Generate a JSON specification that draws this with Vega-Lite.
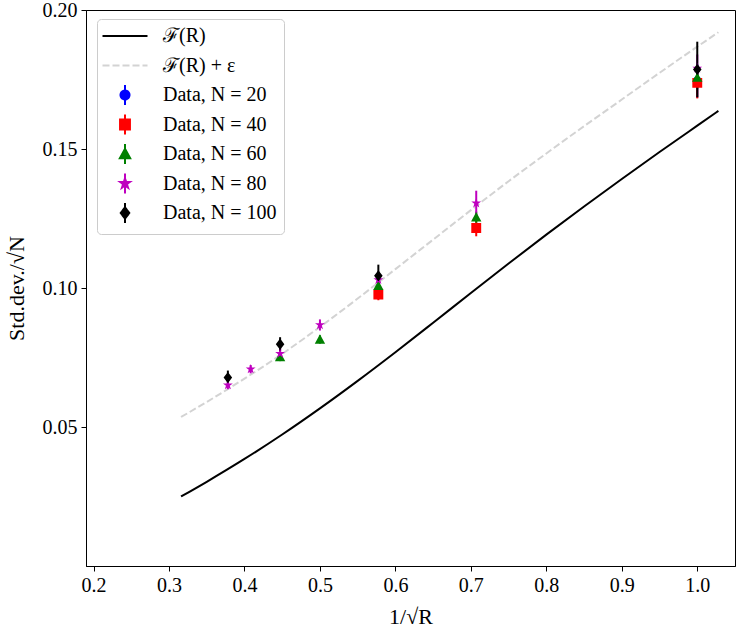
{
  "$schema": "https://vega.github.io/schema/vega-lite/v6.json",
  "width": 649,
  "height": 556,
  "autosize": {"type": "none"},
  "padding": {"left": 86, "top": 10, "right": 12, "bottom": 75},
  "background": "white",
  "config": {
    "view": {"stroke": "black", "strokeWidth": 1},
    "font": "Liberation Serif",
    "axis": {
      "grid": false,
      "domainColor": "black",
      "tickColor": "black",
      "labelColor": "black",
      "titleColor": "black",
      "labelFont": "Liberation Serif",
      "titleFont": "Liberation Serif",
      "labelFontSize": 20,
      "titleFontSize": 22,
      "titleFontWeight": "normal",
      "tickSize": 5,
      "tickWidth": 1,
      "domainWidth": 1,
      "labelPadding": 4
    }
  },
  "datasets": {
    "solid": [
      {"x": 0.316, "y": 0.0250},
      {"x": 0.35, "y": 0.0303},
      {"x": 0.40, "y": 0.0385},
      {"x": 0.45, "y": 0.0473},
      {"x": 0.50, "y": 0.0567},
      {"x": 0.55, "y": 0.0666},
      {"x": 0.60, "y": 0.0769},
      {"x": 0.65, "y": 0.0875},
      {"x": 0.70, "y": 0.0982},
      {"x": 0.75, "y": 0.1088},
      {"x": 0.80, "y": 0.1192},
      {"x": 0.85, "y": 0.1293},
      {"x": 0.90, "y": 0.1392},
      {"x": 0.95, "y": 0.1489},
      {"x": 1.00, "y": 0.1584},
      {"x": 1.028, "y": 0.1637}
    ],
    "dashed": [
      {"x": 0.316, "y": 0.0536},
      {"x": 0.35, "y": 0.0590},
      {"x": 0.40, "y": 0.0674},
      {"x": 0.45, "y": 0.0763},
      {"x": 0.50, "y": 0.0860},
      {"x": 0.55, "y": 0.0962},
      {"x": 0.60, "y": 0.1068},
      {"x": 0.65, "y": 0.1174},
      {"x": 0.70, "y": 0.1280},
      {"x": 0.75, "y": 0.1384},
      {"x": 0.80, "y": 0.1484},
      {"x": 0.85, "y": 0.1582},
      {"x": 0.90, "y": 0.1678},
      {"x": 0.95, "y": 0.1774},
      {"x": 1.00, "y": 0.1868},
      {"x": 1.028, "y": 0.1920}
    ],
    "points": [
      {"series": "Data, N = 20", "x": 1.0, "y": 0.1745, "lo": 0.1685, "hi": 0.1805},
      {"series": "Data, N = 40", "x": 0.5774, "y": 0.0976, "lo": 0.0956, "hi": 0.0996},
      {"series": "Data, N = 40", "x": 0.7071, "y": 0.1216, "lo": 0.1186, "hi": 0.1246},
      {"series": "Data, N = 40", "x": 1.0, "y": 0.1738, "lo": 0.1682, "hi": 0.1794},
      {"series": "Data, N = 60", "x": 0.4472, "y": 0.0752, "lo": 0.0737, "hi": 0.0767},
      {"series": "Data, N = 60", "x": 0.5, "y": 0.0815, "lo": 0.0800, "hi": 0.0830},
      {"series": "Data, N = 60", "x": 0.5774, "y": 0.1008, "lo": 0.0988, "hi": 0.1028},
      {"series": "Data, N = 60", "x": 0.7071, "y": 0.1255, "lo": 0.1235, "hi": 0.1275},
      {"series": "Data, N = 60", "x": 1.0, "y": 0.1757, "lo": 0.1717, "hi": 0.1797},
      {"series": "Data, N = 80", "x": 0.3780, "y": 0.0651, "lo": 0.0636, "hi": 0.0666},
      {"series": "Data, N = 80", "x": 0.4082, "y": 0.0708, "lo": 0.0693, "hi": 0.0723},
      {"series": "Data, N = 80", "x": 0.4472, "y": 0.0764, "lo": 0.0744, "hi": 0.0784},
      {"series": "Data, N = 80", "x": 0.5, "y": 0.0867, "lo": 0.0847, "hi": 0.0887},
      {"series": "Data, N = 80", "x": 0.5774, "y": 0.1029, "lo": 0.0999, "hi": 0.1059},
      {"series": "Data, N = 80", "x": 0.7071, "y": 0.1305, "lo": 0.1260, "hi": 0.1350},
      {"series": "Data, N = 80", "x": 1.0, "y": 0.1790, "lo": 0.1740, "hi": 0.1840},
      {"series": "Data, N = 100", "x": 0.3780, "y": 0.0678, "lo": 0.0653, "hi": 0.0703},
      {"series": "Data, N = 100", "x": 0.4472, "y": 0.0798, "lo": 0.0773, "hi": 0.0823},
      {"series": "Data, N = 100", "x": 0.5774, "y": 0.1044, "lo": 0.1004, "hi": 0.1084},
      {"series": "Data, N = 100", "x": 1.0, "y": 0.1786, "lo": 0.1686, "hi": 0.1886}
    ]
  },
  "layer": [
    {
      "data": {"name": "solid"},
      "mark": {"type": "line", "color": "black", "strokeWidth": 2, "interpolate": "monotone"},
      "encoding": {
        "x": {"field": "x", "type": "quantitative", "scale": {"domain": [0.19, 1.05], "nice": false, "zero": false},
              "axis": {"values": [0.2, 0.3, 0.4, 0.5, 0.6, 0.7, 0.8, 0.9, 1.0], "format": ".1f", "title": "1/√R", "titlePadding": 11}},
        "y": {"field": "y", "type": "quantitative", "scale": {"domain": [0, 0.2], "nice": false, "zero": false},
              "axis": {"values": [0.05, 0.1, 0.15, 0.2], "format": ".2f", "title": "Std.dev./√N", "titlePadding": 14}}
      }
    },
    {
      "data": {"name": "dashed"},
      "mark": {"type": "line", "color": "#d3d3d3", "strokeWidth": 2, "strokeDash": [7, 3], "interpolate": "monotone"},
      "encoding": {
        "x": {"field": "x", "type": "quantitative"},
        "y": {"field": "y", "type": "quantitative"}
      }
    },
    {
      "data": {"name": "points"},
      "mark": {"type": "rule", "strokeWidth": 2},
      "encoding": {
        "x": {"field": "x", "type": "quantitative"},
        "y": {"field": "lo", "type": "quantitative"},
        "y2": {"field": "hi"},
        "color": {"field": "series", "type": "nominal",
          "scale": {"domain": ["ℱ(R)", "ℱ(R) + ε", "Data, N = 20", "Data, N = 40", "Data, N = 60", "Data, N = 80", "Data, N = 100"],
                    "range": ["black", "#d3d3d3", "#0000ff", "#ff0000", "#008000", "#bf00bf", "black"]}}
      }
    },
    {
      "data": {"name": "points"},
      "mark": {"type": "point", "filled": true, "opacity": 1, "size": 81, "strokeWidth": 0},
      "encoding": {
        "x": {"field": "x", "type": "quantitative"},
        "y": {"field": "y", "type": "quantitative"},
        "color": {"field": "series", "type": "nominal",
          "scale": {"domain": ["ℱ(R)", "ℱ(R) + ε", "Data, N = 20", "Data, N = 40", "Data, N = 60", "Data, N = 80", "Data, N = 100"],
                    "range": ["black", "#d3d3d3", "#0000ff", "#ff0000", "#008000", "#bf00bf", "black"]},
          "legend": {
            "title": null,
            "orient": "none",
            "legendX": 11,
            "legendY": 9,
            "padding": 7,
            "fillColor": "white",
            "strokeColor": "#cccccc",
            "cornerRadius": 4,
            "symbolSize": 81,
            "symbolStrokeWidth": 2,
            "symbolOffset": 11,
            "labelOffset": 28,
            "labelFont": "Liberation Serif",
            "labelFontSize": 20,
            "labelColor": "black",
            "rowPadding": 1.5,
            "symbolOpacity": 1,
            "encode": {
              "symbols": {
                "update": {
                  "stroke": {"signal": "scale('color', datum.value)"},
                  "strokeDash": {"signal": "datum.value === 'ℱ(R) + ε' ? [7, 3] : [1, 0]"}
                }
              }
            }
          }
        },
        "shape": {"field": "series", "type": "nominal",
          "scale": {"domain": ["ℱ(R)", "ℱ(R) + ε", "Data, N = 20", "Data, N = 40", "Data, N = 60", "Data, N = 80", "Data, N = 100"],
                    "range": [
                      "M-5,0L5,0M0,-2.2L0,-2.2M0,2.2L0,2.2",
                      "M-5,0L5,0M0,-2.2L0,-2.2M0,2.2L0,2.2",
                      "M1,0A1,1,0,1,1,-1,0A1,1,0,1,1,1,0ZM0,-2.2L0,2.2",
                      "M-1.1,-1.1L1.1,-1.1L1.1,1.1L-1.1,1.1ZM0,-2.2L0,2.2",
                      "M0,-1.15L1.15,0.95L-1.15,0.95ZM0,-2.2L0,2.2",
                      "M0,-1.15L0.26,-0.36L1.09,-0.36L0.42,0.14L0.68,0.93L0,0.44L-0.68,0.93L-0.42,0.14L-1.09,-0.36L-0.26,-0.36ZM0,-2.2L0,2.2",
                      "M0,-1.25L0.95,0L0,1.25L-0.95,0ZM0,-2.2L0,2.2"
                    ]}
        }
      }
    }
  ]
}
